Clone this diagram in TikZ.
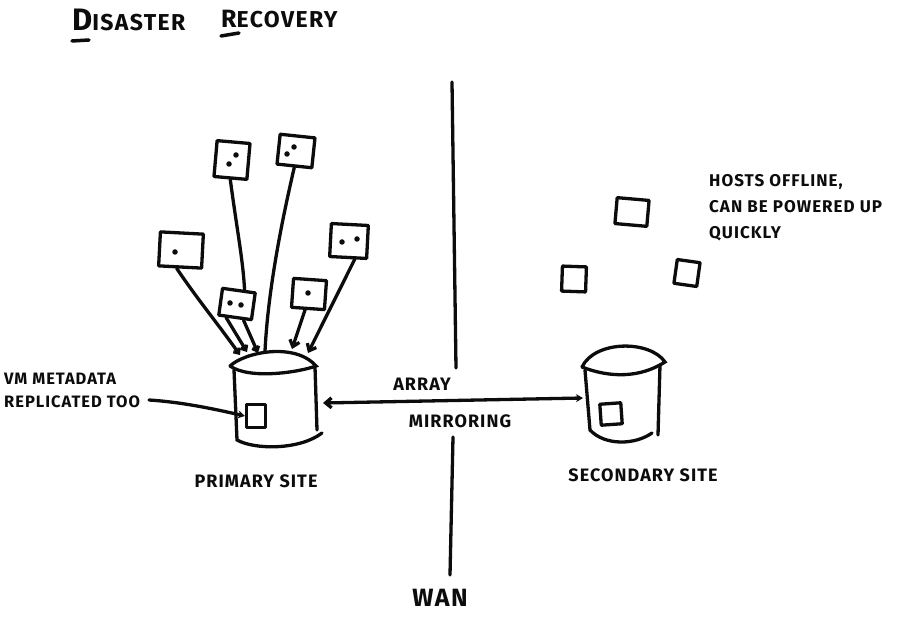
\documentclass[tikz,border=0pt]{standalone}
\usepackage{fontspec}
\setmainfont{Fira Sans}[LetterSpace=6]
\usetikzlibrary{arrows.meta}
\definecolor{inkblack}{RGB}{12,12,12}
\tikzset{
  hostbox/.style={draw=inkblack,line width=3.3pt,rectangle,inner sep=0pt,line join=round},
  vmdot/.style={circle,fill=inkblack,inner sep=0pt,minimum size=5.5pt},
  vmlink/.style={draw=inkblack,line width=3.3pt,line cap=round},
  handtext/.style={text=inkblack,font=\fontsize{18}{24}\selectfont\bfseries,inner sep=0pt},
  barb/.style={-{Straight Barb[length=6pt,width=10pt]}},
  smallbarb/.style={-{Straight Barb[length=4pt,width=7pt]}},
}
\begin{document}
\begin{tikzpicture}[x=1pt,y=-1pt]
  \useasboundingbox (0,0) rectangle (900,617);
  % title
  \node[handtext,font=\fontsize{23}{20}\selectfont\bfseries,anchor=base west] (titleA) at (72,31) {{\fontsize{31}{20}\selectfont D}ISASTER};
  \node[handtext,font=\fontsize{23}{20}\selectfont\bfseries,anchor=base west] (titleB) at (221,28) {{\fontsize{25}{20}\selectfont R}ECOVERY};
  \coordinate (ulDa) at (72,41);\coordinate (ulDb) at (89,40);
  \coordinate (ulRa) at (221,36);\coordinate (ulRb) at (239,33);
  \draw[vmlink,line width=3.5pt] (ulDa)--(ulDb);\draw[vmlink,line width=3.5pt] (ulRa)--(ulRb);
  % WAN divider
  \node[handtext,font=\fontsize{25}{20}\selectfont\bfseries] (wan) at (440,598) {WAN};
  \coordinate (wanA) at (452,82);\coordinate (wanB) at (456,368);
  \coordinate (wanC) at (453,437);\coordinate (wanD) at (450,575);
  \draw[vmlink] (wanA)--(wanB);\draw[vmlink] (wanC)--(wanD);
  % primary array
  \coordinate (lidAw) at (230,366);\coordinate (lidAe) at (316,366);
  \draw[vmlink] (lidAw) .. controls (245,352) and (295,342) .. (lidAe)
    .. controls (300,372) and (250,380) .. (lidAw);
  \draw[vmlink] (234,370)--(237,440) .. controls (255,450) and (300,450) .. (322,433);
  \draw[vmlink] (315,367)--(317,430);
  \node[hostbox,minimum width=19pt,minimum height=23pt] (vmA) at (256,416) {};
  % secondary array
  \coordinate (lidBw) at (582,367);\coordinate (lidBe) at (665,362);
  \draw[vmlink] (lidBw) .. controls (595,340) and (650,340) .. (lidBe)
    .. controls (640,378) and (610,378) .. (lidBw);
  \draw[vmlink] (585,370)--(590,430) .. controls (605,446) and (635,445) .. (652,433);
  \draw[vmlink] (660,365)--(658,435);
  \node[hostbox,minimum width=21pt,minimum height=21pt,rotate=4] (vmB) at (611,414) {};
  % hosts at primary site
  \node[hostbox,minimum width=33pt,minimum height=36pt,rotate=-5] (hostA) at (232,160) {};
  \node[hostbox,minimum width=35pt,minimum height=30pt,rotate=-6] (hostB) at (296,151) {};
  \node[hostbox,minimum width=43pt,minimum height=34pt,rotate=-3] (hostC) at (181,250) {};
  \node[hostbox,minimum width=33pt,minimum height=27pt,rotate=-8] (hostD) at (237,304) {};
  \node[hostbox,minimum width=33pt,minimum height=29pt,rotate=-4] (hostE) at (309,294) {};
  \node[hostbox,minimum width=37pt,minimum height=33pt,rotate=-3] (hostF) at (349,241) {};
  \node[vmdot] (dotAa) at (236,155) {};\node[vmdot] (dotAb) at (229,164) {};
  \node[vmdot] (dotBa) at (294,147) {};\node[vmdot] (dotBb) at (287,154) {};
  \node[vmdot] (dotC) at (175,252) {};
  \node[vmdot] (dotDa) at (230,303) {};\node[vmdot] (dotDb) at (241,305) {};
  \node[vmdot] (dotE) at (308,293) {};
  \node[vmdot] (dotFa) at (342,242) {};\node[vmdot] (dotFb) at (357,239) {};
  \coordinate (topA) at (258,353);\coordinate (topB) at (265,351);
  \coordinate (topC) at (240,355);\coordinate (topD) at (247,352);
  \coordinate (topE) at (292,349);\coordinate (topF) at (308,353);
  \draw[vmlink] (hostA.south) .. controls (237,230) and (243,260) .. (hostD.70);
  \draw[vmlink,smallbarb] (hostD.-60)--(topA);
  \draw[vmlink] (hostB.south) .. controls (282,220) and (268,290) .. (topB);
  \draw[vmlink,smallbarb] (hostC.-100) .. controls (198,300) and (215,320) .. (topC);
  \draw[vmlink,smallbarb] (hostD.-120)--(topD);
  \draw[vmlink,barb] (hostE.-100)--(topE);
  \draw[vmlink,barb] (hostF.-70)--(topF);
  % hosts at secondary site
  \node[hostbox,minimum width=32pt,minimum height=26pt,rotate=-5] (idleA) at (632,212) {};
  \node[hostbox,minimum width=24pt,minimum height=25pt,rotate=-2] (idleB) at (574,279) {};
  \node[hostbox,minimum width=23pt,minimum height=24pt,rotate=-8] (idleC) at (687,273) {};
  % labels
  \node[handtext,align=left,anchor=west,font=\fontsize{16.5}{23}\selectfont\bfseries] (vmnote) at (4,390) {VM METADATA\\REPLICATED TOO};
  \draw[vmlink,-{Stealth[length=7pt,width=8pt]}] (149,400) .. controls (180,402) and (210,408) .. (vmA.west);
  \node[handtext] (arrayA) at (422,384) {ARRAY};
  \node[handtext] (arrayB) at (460,421) {MIRRORING};
  \coordinate (portA) at (323,403);\coordinate (portB) at (583,398);
  \draw[vmlink,{Straight Barb[length=6pt,width=10pt]}-{Stealth[length=7pt,width=8pt]}] (portA)--(portB);
  \node[handtext] (siteA) at (256,481) {PRIMARY SITE};
  \node[handtext] (siteB) at (643,475) {SECONDARY SITE};
  \node[handtext,align=left,anchor=west,font=\fontsize{17}{26}\selectfont\bfseries] (offline) at (709,208) {HOSTS OFFLINE,\\CAN BE POWERED UP\\QUICKLY};
\end{tikzpicture}
\end{document}
